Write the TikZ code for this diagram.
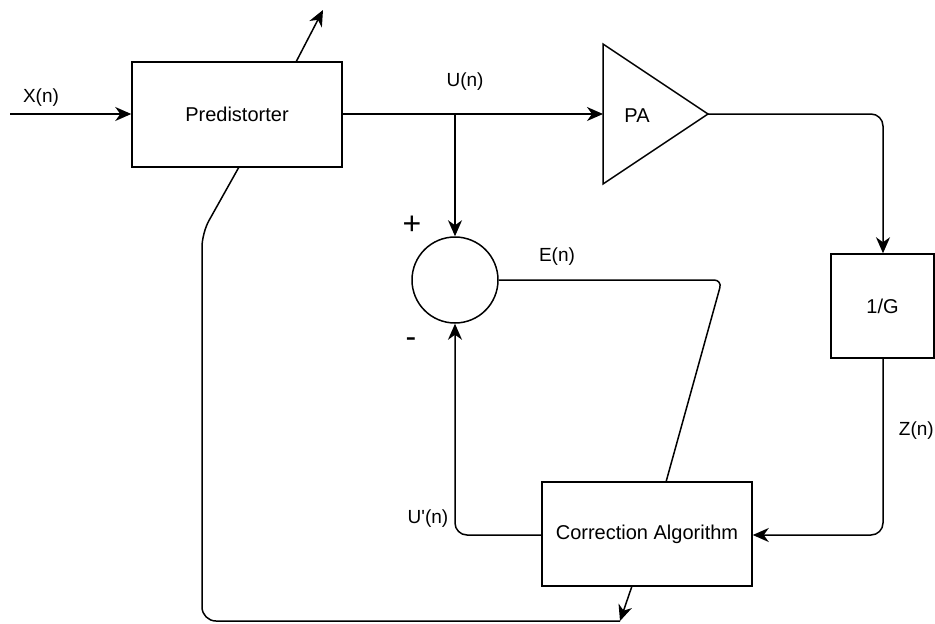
\documentclass[tikz,border=0pt]{standalone}
\usepackage{fontspec}
\setmainfont{Liberation Sans}
\usetikzlibrary{arrows.meta}
\begin{document}
\begin{tikzpicture}[x=1pt,y=-1pt,
  wire/.style={line width=1.5pt, line join=round},
  arr/.style={wire, -{Stealth[length=16pt,width=14pt,inset=5pt]}},
  blk/.style={draw, line width=1.5pt, rectangle, inner sep=0pt, font=\fontsize{20}{24}\selectfont},
  lbl/.style={font=\fontsize{19}{22}\selectfont, inner sep=0pt},
  sgn/.style={font=\fontsize{32}{36}\selectfont, inner sep=0pt}]
\useasboundingbox (0,0) rectangle (935,624);
% blocks
\node[blk, minimum width=210pt, minimum height=105pt] (pre) at (237,114.5) {Predistorter};
\node[blk, minimum width=103pt, minimum height=104pt] (ginv) at (882.5,306) {1/G};
\node[blk, minimum width=210pt, minimum height=104pt] (corr) at (647,534) {Correction Algorithm};
\node[draw, circle, line width=1.5pt, minimum size=86pt, inner sep=0pt] (sum) at (455,280) {};
% PA triangle
\coordinate (paT) at (603,44);
\coordinate (paB) at (603,184);
\coordinate (paO) at (708,114);
\coordinate (paI) at (603,114);
\draw[line width=1.5pt, line join=miter] (paT) -- (paO) -- (paB) -- cycle;
\node[font=\fontsize{20}{24}\selectfont] (pa) at (637,116) {PA};
% coordinates
\coordinate (xin) at (10,114);
\coordinate (jn) at (455,114);
\coordinate (topout) at (323,10);
\coordinate (preb) at (239,167);
\coordinate (pret) at (296,62);
\coordinate (fb) at (620,621);
\coordinate (corrb) at (632,586);
\coordinate (corrt) at (666,482);
% connectors
\draw[arr] (xin) -- (pre.west |- xin);
\draw[arr] (pre.east |- jn) -- (paI);
\draw[arr] (jn) -- (sum.north);
\draw[arr] (pret) -- (topout);
\draw[arr, rounded corners=12pt] (paO) -- (883,114) -- (ginv.north -| 883,0);
\draw[arr, rounded corners=12pt] (ginv.south -| 883,0) -- (883,535) -- (corr.east |- 0,535);
\draw[arr, rounded corners=12pt] (corr.west |- 0,535) -- (455,535) -- (sum.south);
\draw[wire, rounded corners=8pt] (sum.east) -- (722,280) -- (corrt);
\draw[wire, rounded corners=14pt] (preb) -- (202,233) -- (202,621) -- (fb);
\draw[arr] (corrb) -- (fb);
% labels
\node[lbl] (lx) at (41,98) {X(n)};
\node[lbl] (lu) at (465,82) {U(n)};
\node[lbl] (le) at (557,257) {E(n)};
\node[lbl] (lup) at (428,519) {U\textquotesingle(n)};
\node[lbl, anchor=east] (lz) at (934,431) {Z(n)};
\node[sgn] (plus) at (412,225) {+};
\node[sgn] (minus) at (411,343) {-};
\end{tikzpicture}
\end{document}
